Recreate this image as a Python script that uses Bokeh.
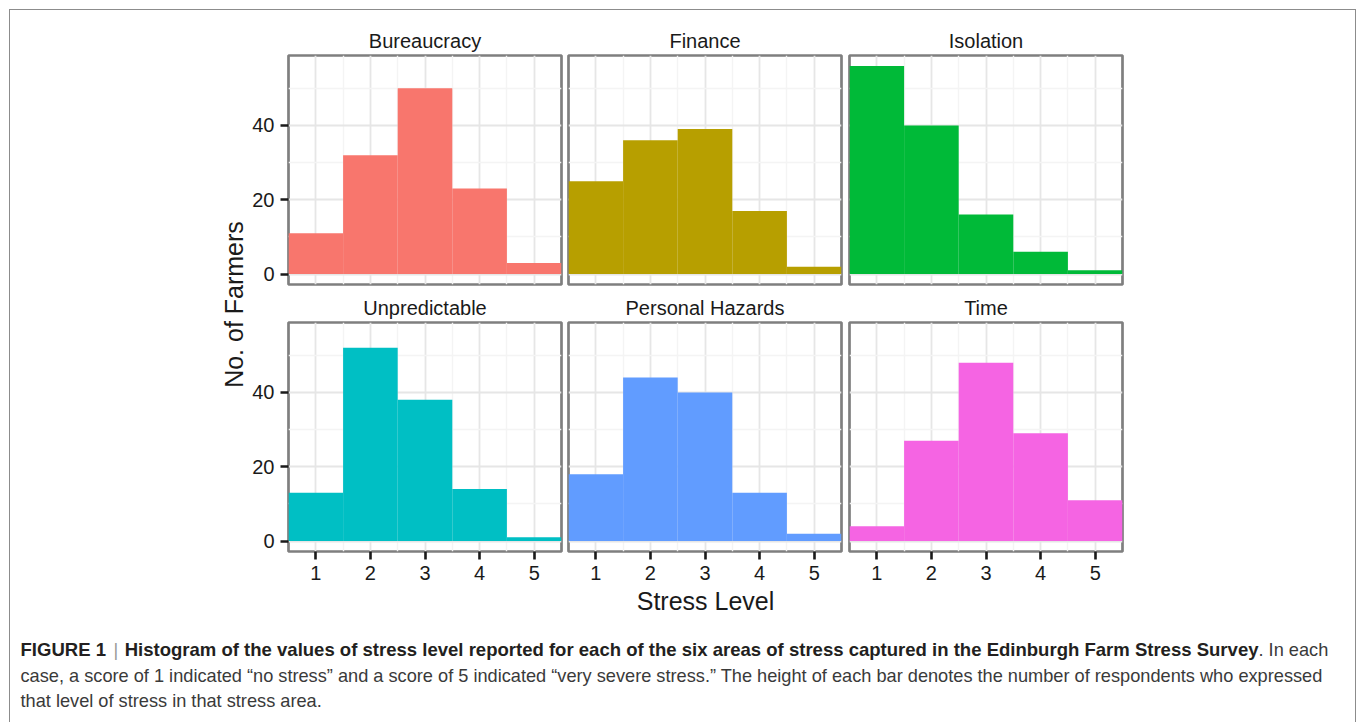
import math
from bokeh.plotting import figure
from bokeh.layouts import row, column
from bokeh.models import Range1d, FixedTicker, ColumnDataSource, Spacer
from bokeh.core.properties import value
from bokeh.embed import file_html
from bokeh.resources import INLINE

# ---------------- data ----------------
stress_levels = [1, 2, 3, 4, 5]
areas = ["Bureaucracy", "Finance", "Isolation", "Unpredictable", "Personal Hazards", "Time"]
bureaucracy = [11, 32, 50, 23, 3]
finance = [25, 36, 39, 17, 2]
isolation = [56, 40, 16, 6, 1]
unpredictable = [13, 52, 38, 14, 1]
personal_hazards = [18, 44, 40, 13, 2]
time_counts = [4, 27, 48, 29, 11]
area_colors = ["#F8766D", "#B79F00", "#00BA38", "#00BFC4", "#619CFF", "#F564E3"]
y_ticks = [0, 20, 40]
y_minor = [10, 30, 50]
x_minor = [1.5, 2.5, 3.5, 4.5]
x_title = "Stress Level"
y_title = "No. of Farmers"
cap_fig = "FIGURE 1"
cap_sep = "|"
cap_bold = ("Histogram of the values of stress level reported for each of the six areas "
            "of stress captured in the Edinburgh Farm Stress Survey")
cap_rest1 = ". In each"
cap_line2 = ("case, a score of 1 indicated \u201cno stress\u201d and a score of 5 indicated "
             "\u201cvery severe stress.\u201d The height of each bar denotes the number of "
             "respondents who expressed")
cap_line3 = "that level of stress in that stress area."

all_counts = [bureaucracy, finance, isolation, unpredictable, personal_hazards, time_counts]

FONT = "Liberation Sans"
ymax = max(max(c) for c in all_counts)
pad = 0.05 * ymax
FRAME_W, FRAME_H = 273, 229


def panel(name, counts, color, show_x, show_y, mbl, mbr, mbt, mbb):
    p = figure(output_backend="svg", toolbar_location=None,
               frame_width=FRAME_W, frame_height=FRAME_H,
               x_range=Range1d(0.5, 5.5), y_range=Range1d(-pad, ymax + pad),
               x_axis_location="below" if show_x else None,
               y_axis_location="left" if show_y else None,
               min_border_left=mbl, min_border_right=mbr,
               min_border_top=mbt, min_border_bottom=mbb,
               title=name)
    p.background_fill_color = "white"
    p.border_fill_color = "white"
    p.outline_line_color = "#7f7f7f"
    p.outline_line_width = 2.7
    p.title.align = "center"
    p.title.text_font = FONT
    p.title.text_font_size = "20px"
    p.title.text_font_style = "normal"
    p.title.text_color = "#1a1a1a"
    p.title.standoff = 7
    for g in p.grid:
        if g.dimension == 0:
            g.ticker = FixedTicker(ticks=stress_levels, minor_ticks=x_minor)
        else:
            g.ticker = FixedTicker(ticks=y_ticks, minor_ticks=y_minor)
        g.grid_line_color = "#e6e6e6"
        g.grid_line_width = 1.8
        g.minor_grid_line_color = "#f4f4f4"
        g.minor_grid_line_width = 1.4
    axes = []
    if show_x:
        p.xaxis.ticker = FixedTicker(ticks=stress_levels)
        axes.append(p.xaxis)
    if show_y:
        p.yaxis.ticker = FixedTicker(ticks=y_ticks)
        axes.append(p.yaxis)
    for ax in axes:
        ax.axis_line_color = None
        ax.major_tick_in = 0
        ax.major_tick_out = 8
        ax.major_tick_line_width = 2.6
        ax.major_tick_line_color = "#1a1a1a"
        ax.minor_tick_line_color = None
        ax.major_label_text_font = FONT
        ax.major_label_text_font_size = "20px"
        ax.major_label_text_color = "#1a1a1a"
        ax.major_label_standoff = 6
    src = ColumnDataSource(dict(x=stress_levels, top=counts))
    p.vbar(x="x", top="top", bottom=0, width=1, source=src,
           fill_color=color, line_color=None)
    return p


# content starts at page (10, 10); top row frame 55..284, bottom row frame 322..551
A = panel(areas[0], all_counts[0], area_colors[0], False, True, 40, 3, 45, 4)
B = panel(areas[1], all_counts[1], area_colors[1], False, False, 4, 4, 45, 4)
C = panel(areas[2], all_counts[2], area_colors[2], False, False, 4, 233, 45, 4)
D = panel(areas[3], all_counts[3], area_colors[3], True, True, 40, 3, 34, 36)
E = panel(areas[4], all_counts[4], area_colors[4], True, False, 4, 4, 34, 36)
F = panel(areas[5], all_counts[5], area_colors[5], True, False, 4, 233, 34, 36)

# left strip holding the y-axis title
LW, LH = 238, 577
left = figure(output_backend="svg", toolbar_location=None, width=LW, height=LH,
              x_range=Range1d(0, LW), y_range=Range1d(LH, 0),
              x_axis_location=None, y_axis_location=None,
              min_border=0, outline_line_color=None)
left.grid.visible = False
left.text(x=[223], y=[294], text=[y_title], angle=math.pi / 2,
          text_font=value(FONT), text_font_size="25px", text_color="#1a1a1a",
          text_align="center", text_baseline="middle")

# bottom strip with x-axis title and caption
BW, BH = 1345, 135
bot = figure(output_backend="svg", toolbar_location=None, width=BW, height=BH,
             x_range=Range1d(0, BW), y_range=Range1d(BH, 0),
             x_axis_location=None, y_axis_location=None,
             min_border=0, outline_line_color=None)
bot.grid.visible = False
bot.text(x=[695], y=[13], text=[x_title], text_font=value(FONT),
         text_font_size="25px", text_color="#1a1a1a",
         text_align="center", text_baseline="middle")
CAPB = "18.55px"
CAPN = "18.2px"
bot.text(x=[10], y=[62], text=[cap_fig], text_font=value(FONT), text_font_size=CAPB,
         text_font_style="bold", text_color="#231f20", text_baseline="middle")
bot.text(x=[103], y=[62], text=[cap_sep], text_font=value(FONT), text_font_size=CAPN,
         text_color="#999999", text_baseline="middle")
bot.text(x=[1248], y=[62], text=[cap_bold], text_font=value(FONT), text_font_size=CAPB,
         text_font_style="bold", text_color="#231f20", text_align="right",
         text_baseline="middle")
bot.text(x=[1248], y=[62], text=[cap_rest1], text_font=value(FONT), text_font_size=CAPN,
         text_color="#3a3a3a", text_baseline="middle")
bot.text(x=[10], y=[88], text=[cap_line2], text_font=value(FONT), text_font_size=CAPN,
         text_color="#3a3a3a", text_baseline="middle")
bot.text(x=[10], y=[113], text=[cap_line3], text_font=value(FONT), text_font_size=CAPN,
         text_color="#3a3a3a", text_baseline="middle")

grid_block = column(row(A, B, C, spacing=0), row(D, E, F, spacing=0), spacing=0)
boxed = column(row(left, grid_block, spacing=0), bot, spacing=0,
               styles={"border-top": "1px solid #8c8c8c",
                       "border-left": "1px solid #8c8c8c",
                       "border-right": "1px solid #8c8c8c"})
page = column(Spacer(width=10, height=9),
              row(Spacer(width=9, height=10), boxed, spacing=0), spacing=0)

open("out.html", "w").write(file_html(page, INLINE))
